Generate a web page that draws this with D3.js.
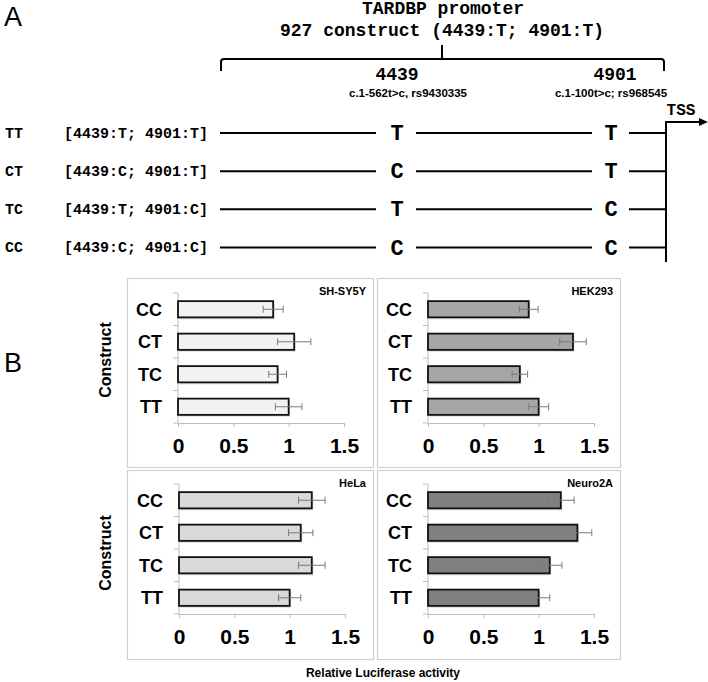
<!DOCTYPE html>
<html>
<head>
<meta charset="utf-8">
<script src="https://cdn.jsdelivr.net/npm/d3@7"></script>
<style>
  html, body { margin: 0; padding: 0; background: #fff; }
  svg { display: block; }
</style>
</head>
<body>
<script>
// ---------- DATA ----------
const categories = ["CC", "CT", "TC", "TT"];
const xTicks = [0, 0.5, 1, 1.5];
const cellLines = ["SH-SY5Y", "HEK293", "HeLa", "Neuro2A"];
const shsy5yValues = [0.86, 1.05, 0.90, 1.00];
const shsy5yErrors = [0.09, 0.15, 0.08, 0.12];
const hek293Values = [0.91, 1.31, 0.83, 1.00];
const hek293Errors = [0.085, 0.12, 0.07, 0.09];
const helaValues = [1.20, 1.10, 1.20, 1.00];
const helaErrors = [0.12, 0.11, 0.12, 0.10];
const neuro2aValues = [1.20, 1.35, 1.10, 1.00];
const neuro2aErrors = [0.12, 0.13, 0.11, 0.10];

const constructs = ["TT", "CT", "TC", "CC"];
const allele4439 = ["T", "C", "T", "C"];
const allele4901 = ["T", "T", "C", "C"];

// ---------- SETUP ----------
const W = 708, H = 682;
const svg = d3.select("body").append("svg").attr("width", W).attr("height", H);
const MONO = "'Liberation Mono','Courier New',monospace";
const SANS = "'Liberation Sans',Arial,Helvetica,sans-serif";

// ---------- PANEL A ----------
svg.append("text").attr("x", 4).attr("y", 26).attr("font-family", SANS)
  .attr("font-size", 27).text("A");

svg.append("text").attr("x", 443).attr("y", 14).attr("text-anchor", "middle")
  .attr("font-family", MONO).attr("font-weight", "bold").attr("font-size", 18)
  .text("TARDBP promoter");
svg.append("text").attr("x", 442).attr("y", 36).attr("text-anchor", "middle")
  .attr("font-family", MONO).attr("font-weight", "bold").attr("font-size", 18)
  .text("927 construct (4439:T; 4901:T)");

// brace
svg.append("path")
  .attr("d", "M221,71 L221,62 Q221,59 224,59 L661,59 Q664,59 664,62 L664,71 M442,59 L442,45")
  .attr("fill", "none").attr("stroke", "#000").attr("stroke-width", 2);

const posX = d3.scaleOrdinal().domain(["4439", "4901"]).range([397, 611]);

svg.append("text").attr("x", posX("4439")).attr("y", 80).attr("text-anchor", "middle")
  .attr("font-family", MONO).attr("font-weight", "bold").attr("font-size", 18).text("4439");
svg.append("text").attr("x", 408).attr("y", 96.5).attr("text-anchor", "middle")
  .attr("font-family", SANS).attr("font-weight", "bold").attr("font-size", 11.5).text("c.1-562t>c, rs9430335");
svg.append("text").attr("x", 615).attr("y", 80).attr("text-anchor", "middle")
  .attr("font-family", MONO).attr("font-weight", "bold").attr("font-size", 18).text("4901");
svg.append("text").attr("x", 611).attr("y", 96.5).attr("text-anchor", "middle")
  .attr("font-family", SANS).attr("font-weight", "bold").attr("font-size", 11.5).text("c.1-100t>c; rs968545");

const rowY = d3.scalePoint().domain(constructs).range([133, 247.5]);
const rows = svg.append("g").selectAll("g").data(constructs).join("g")
  .attr("transform", d => `translate(0,${rowY(d)})`);
rows.append("text").attr("x", 5).attr("y", 4.5)
  .attr("font-family", MONO).attr("font-weight", "bold").attr("font-size", 15).text(d => d);
rows.append("text").attr("x", 64).attr("y", 4.5)
  .attr("font-family", MONO).attr("font-weight", "bold").attr("font-size", 15)
  .text((d, i) => `[4439:${allele4439[i]}; 4901:${allele4901[i]}]`);
rows.append("path")
  .attr("d", "M220,0 L376,0 M416,0 L592,0 M629,0 L666,0")
  .attr("stroke", "#000").attr("stroke-width", 2);
rows.append("text").attr("x", posX("4439")).attr("y", 7).attr("text-anchor", "middle")
  .attr("font-family", MONO).attr("font-weight", "bold").attr("font-size", 22)
  .text((d, i) => allele4439[i]);
rows.append("text").attr("x", posX("4901")).attr("y", 7).attr("text-anchor", "middle")
  .attr("font-family", MONO).attr("font-weight", "bold").attr("font-size", 22)
  .text((d, i) => allele4901[i]);

// TSS
svg.append("path").attr("d", "M666,262 L666,122 L700,122")
  .attr("fill", "none").attr("stroke", "#000").attr("stroke-width", 2);
svg.append("path").attr("d", "M708,122 L699,118 L699,126 Z").attr("fill", "#000");
svg.append("text").attr("x", 681).attr("y", 115).attr("text-anchor", "middle")
  .attr("font-family", MONO).attr("font-weight", "bold").attr("font-size", 16).text("TSS");

// ---------- PANEL B ----------
svg.append("text").attr("x", 4).attr("y", 372).attr("font-family", SANS)
  .attr("font-size", 27).text("B");

const panels = [
  { name: cellLines[0], values: shsy5yValues, errors: shsy5yErrors, fill: "#f2f2f2",
    box: [127, 278, 246, 189], x0: 178, yTop: 293 },
  { name: cellLines[1], values: hek293Values, errors: hek293Errors, fill: "#a6a6a6",
    box: [377, 278, 243, 189], x0: 428, yTop: 293 },
  { name: cellLines[2], values: helaValues, errors: helaErrors, fill: "#d9d9d9",
    box: [127, 470, 246, 189], x0: 179, yTop: 484 },
  { name: cellLines[3], values: neuro2aValues, errors: neuro2aErrors, fill: "#808080",
    box: [377, 470, 243, 189], x0: 428, yTop: 484 }
];

const plotW = 166, plotH = 130;

panels.forEach(p => {
  const g = svg.append("g");
  g.append("rect").attr("x", p.box[0] + 0.5).attr("y", p.box[1] + 0.5)
    .attr("width", p.box[2]).attr("height", p.box[3])
    .attr("fill", "#fff").attr("stroke", "#cfcfcf").attr("stroke-width", 1.2);

  const x = d3.scaleLinear().domain([0, 1.5]).range([p.x0, p.x0 + plotW]);
  const y = d3.scaleBand().domain(categories).range([p.yTop, p.yTop + plotH])
    .paddingInner(0.5).paddingOuter(0.25);

  // x axis
  const xa = g.append("g").attr("transform", `translate(0,${p.yTop + plotH})`)
    .call(d3.axisBottom(x).tickValues(xTicks).tickFormat(d3.format("")).tickSize(4).tickPadding(11));
  xa.select(".domain").attr("stroke", "#bbb");
  xa.selectAll(".tick line").attr("stroke", "#bbb");
  xa.selectAll("text").attr("font-family", SANS).attr("font-weight", "bold")
    .attr("font-size", 21).attr("fill", "#000");

  // y axis line + boundary ticks
  g.append("line").attr("x1", p.x0).attr("x2", p.x0).attr("y1", p.yTop).attr("y2", p.yTop + plotH)
    .attr("stroke", "#bbb");
  const bounds = d3.range(categories.length + 1).map(i => p.yTop + i * y.step());
  g.selectAll(".yt").data(bounds).join("line")
    .attr("x1", p.x0 - 5).attr("x2", p.x0).attr("y1", d => d).attr("y2", d => d)
    .attr("stroke", "#bbb");
  g.selectAll(".cat").data(categories).join("text")
    .attr("x", p.x0 - 16).attr("y", d => y(d) + y.bandwidth() / 2)
    .attr("dy", "0.36em").attr("text-anchor", "end")
    .attr("font-family", SANS).attr("font-weight", "bold").attr("font-size", 18).text(d => d);

  // shadows
  g.selectAll(".shadow").data(categories).join("rect")
    .attr("x", x(0) + 1.5).attr("y", d => y(d) + 2)
    .attr("width", (d, i) => x(p.values[i]) - x(0)).attr("height", y.bandwidth())
    .attr("fill", "#000").attr("opacity", 0.12);
  // bars
  g.selectAll(".bar").data(categories).join("rect")
    .attr("x", x(0)).attr("y", d => y(d))
    .attr("width", (d, i) => x(p.values[i]) - x(0)).attr("height", y.bandwidth())
    .attr("fill", p.fill).attr("stroke", "#111").attr("stroke-width", 1.8);
  // error bars
  const eb = g.selectAll(".eb").data(categories).join("g")
    .attr("stroke", "#7a7a7a").attr("stroke-width", 1);
  eb.append("line")
    .attr("x1", (d, i) => x(p.values[i] - p.errors[i])).attr("x2", (d, i) => x(p.values[i] + p.errors[i]))
    .attr("y1", d => y(d) + y.bandwidth() / 2).attr("y2", d => y(d) + y.bandwidth() / 2);
  eb.append("line")
    .attr("x1", (d, i) => x(p.values[i] - p.errors[i])).attr("x2", (d, i) => x(p.values[i] - p.errors[i]))
    .attr("y1", d => y(d) + y.bandwidth() / 2 - 3.5).attr("y2", d => y(d) + y.bandwidth() / 2 + 3.5);
  eb.append("line")
    .attr("x1", (d, i) => x(p.values[i] + p.errors[i])).attr("x2", (d, i) => x(p.values[i] + p.errors[i]))
    .attr("y1", d => y(d) + y.bandwidth() / 2 - 3.5).attr("y2", d => y(d) + y.bandwidth() / 2 + 3.5);

  // cell line label
  g.append("text").attr("x", p.box[0] + p.box[2] - 7).attr("y", p.box[1] + 17)
    .attr("text-anchor", "end").attr("font-family", SANS).attr("font-weight", "bold")
    .attr("font-size", 11).text(p.name);
});

// Construct labels (left)
[360, 553].forEach(cy => {
  svg.append("text").attr("transform", `translate(111,${cy}) rotate(-90)`)
    .attr("text-anchor", "middle").attr("font-family", SANS).attr("font-weight", "bold")
    .attr("font-size", 16).text("Construct");
});

svg.append("text").attr("x", 383).attr("y", 677).attr("text-anchor", "middle")
  .attr("font-family", SANS).attr("font-weight", "bold").attr("font-size", 12)
  .text("Relative Luciferase activity");
</script>
</body>
</html>
